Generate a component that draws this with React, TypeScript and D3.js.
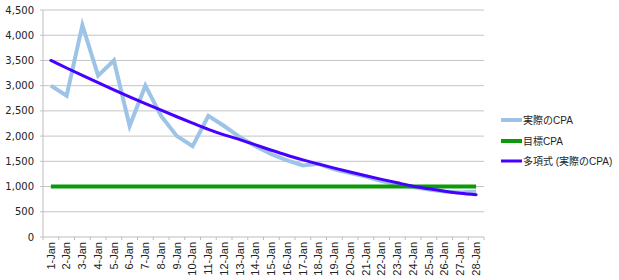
import React from "react";
import * as d3 from "d3";

const categories = Array.from({ length: 28 }, (_, i) => `${i + 1}-Jan`);
const actualCPA = [3000, 2800, 4200, 3200, 3500, 2200, 3000, 2400, 2000, 1800, 2400, 2200, 1980, 1800, 1640, 1520, 1420, 1450, 1340, 1270, 1200, 1110, 1040, 990, 940, 900, 880, 900];
const targetCPA = Array.from({ length: 28 }, () => 1000);
const trendCPA = [3500, 3350, 3203, 3059, 2918, 2780, 2645, 2513, 2384, 2258, 2135, 2025, 1930, 1825, 1720, 1620, 1530, 1445, 1365, 1288, 1214, 1143, 1074, 1008, 955, 908, 868, 838];
const yTicks = [0, 500, 1000, 1500, 2000, 2500, 3000, 3500, 4000, 4500];
const seriesNames = ["実際のCPA", "目標CPA", "多項式 (実際のCPA)"];
const seriesColors = ["#9DC3E6", "#0A9A0A", "#4600FF"];
const seriesWidths = [4, 4, 3];

export default function App() {
  const W = 619, H = 280;
  const left = 43, right = 484, top = 10, bottom = 237;
  const x = d3.scaleBand<string>().domain(categories).range([left, right]);
  const y = d3.scaleLinear().domain([0, 4500]).range([bottom, top]);
  const cx = (i: number) => (x(categories[i]) as number) + x.bandwidth() / 2;
  const lineStraight = d3.line<number>().x((_, i) => cx(i)).y((d) => y(d));
  const lineSmooth = d3.line<number>().x((_, i) => cx(i)).y((d) => y(d)).curve(d3.curveCatmullRom);
  const fmt = d3.format(",");
  const series = [actualCPA, targetCPA, trendCPA];
  const legendY = [120, 141, 161];
  return (
    <svg width={W} height={H} style={{ position: "absolute", left: 0, top: 0 }}>
      {yTicks.map((t) => (
        <g key={t}>
          <line x1={left - 3} x2={t === 0 ? left : right} y1={y(t)} y2={y(t)} stroke="#C4C4C4" strokeWidth={1} />
          <text x={34} y={y(t)} dy="0.35em" textAnchor="end" fontFamily="DejaVu Sans" fontSize={10} fill="#222">
            {fmt(t)}
          </text>
        </g>
      ))}
      <line x1={left} x2={left} y1={top} y2={bottom + 3} stroke="#BDBDBD" strokeWidth={1} />
      <line x1={left} x2={right} y1={bottom} y2={bottom} stroke="#BDBDBD" strokeWidth={1} />
      {categories.map((c) => (
        <line key={"t" + c} x1={(x(c) as number) + x.bandwidth()} x2={(x(c) as number) + x.bandwidth()} y1={bottom} y2={bottom + 3} stroke="#BDBDBD" />
      ))}
      {categories.map((c, i) => (
        <text
          key={c}
          transform={`translate(${cx(i)},${bottom + 5}) rotate(-90)`}
          textAnchor="end"
          dy="0.35em"
          fontFamily="Liberation Sans, Arial"
          fontSize={11}
          fill="#222"
        >
          {c}
        </text>
      ))}
      <path d={lineStraight(actualCPA) || ""} fill="none" stroke={seriesColors[0]} strokeWidth={seriesWidths[0]} strokeLinejoin="miter" />
      <path d={lineStraight(targetCPA) || ""} fill="none" stroke={seriesColors[1]} strokeWidth={seriesWidths[1]} />
      <path d={lineSmooth(trendCPA) || ""} fill="none" stroke={seriesColors[2]} strokeWidth={seriesWidths[2]} strokeLinecap="round" />
      {series.map((_, k) => (
        <g key={"lg" + k}>
          <line x1={501} x2={522} y1={legendY[k]} y2={legendY[k]} stroke={seriesColors[k]} strokeWidth={seriesWidths[k]} />
          <text x={523} y={legendY[k]} dy="0.35em" fontFamily="Liberation Sans, Noto Sans CJK JP" fontSize={10} fill="#222">
            {seriesNames[k]}
          </text>
        </g>
      ))}
    </svg>
  );
}
